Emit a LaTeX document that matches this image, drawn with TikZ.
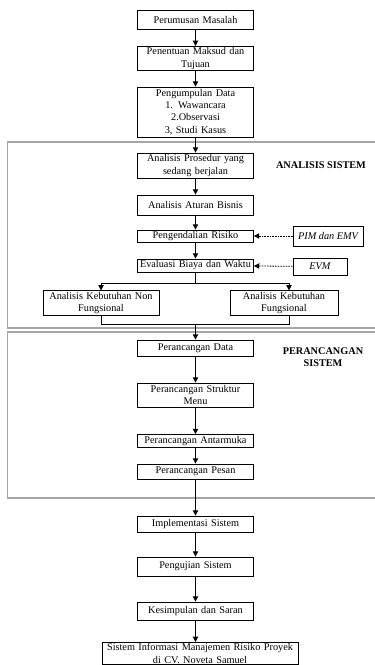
\documentclass[tikz,border=0pt]{standalone}
\usepackage{fontspec}
\setmainfont{Liberation Serif}
\usetikzlibrary{arrows.meta}

\tikzset{
  proses/.style={draw, line width=0.6pt, text width=85pt, align=center,
    inner xsep=1pt, inner ysep=1pt, font=\fontsize{7.7}{9.2}\selectfont},
  masukan/.style={draw, line width=0.6pt, align=center, inner sep=1pt,
    font=\fontsize{7.7}{9.2}\selectfont\itshape},
  panah/.style={line width=0.75pt, -{Triangle[length=4pt,width=4pt]}},
  garis/.style={line width=0.75pt},
  putus/.style={line width=0.6pt, dash pattern=on 1.2pt off 0.8pt,
    -{Triangle[length=4pt,width=4pt]}},
  tahap/.style={draw=gray!70, line width=1pt},
  judul/.style={font=\fontsize{7.7}{9.2}\selectfont\bfseries, align=center}
}

\begin{document}
\begin{tikzpicture}[x=0.75pt, y=-0.75pt]
  \useasboundingbox (0,0) rectangle (375,665);

  \draw[tahap] (7.5,142) rectangle (400,328);
  \draw[tahap] (7.5,332) rectangle (400,498);
  \node[judul] (jAnalisis) at (321,165) {ANALISIS SISTEM};
  \node[judul] (jPerancangan) at (323,357) {PERANCANGAN\\SISTEM};

  \node[proses, minimum height=14.25pt] (perumusan) at (195.5,19.5) {Perumusan Masalah};
  \node[proses, minimum height=18pt] (penentuan) at (195.5,58.5) {Penentuan Maksud dan\\Tujuan};
  \node[proses, minimum height=37.5pt] (pengumpulan) at (195.5,112) {Pengumpulan Data\\1. Wawancara\\2.Observasi\\3, Studi Kasus};
  \node[proses, minimum height=18.75pt] (prosedur) at (195.5,165.5) {Analisis Prosedur yang\\sedang berjalan};
  \node[proses, minimum height=15pt] (aturan) at (195.5,205) {Analisis Aturan Bisnis};
  \node[proses, minimum height=9pt] (risiko) at (195.5,236) {Pengendalian Risiko};
  \node[proses, minimum height=9.75pt] (evaluasi) at (195.5,265.5) {Evaluasi Biaya dan Waktu};
  \node[masukan, minimum width=52.5pt, minimum height=15pt] (pim) at (328,236) {PIM dan EMV};
  \node[masukan, minimum width=40.5pt, minimum height=12.75pt] (evm) at (320,266.5) {EVM};
  \node[proses, minimum height=18pt] (nonfung) at (101,303) {Analisis Kebutuhan Non\\Fungsional};
  \node[proses, text width=79pt, minimum height=18pt] (fung) at (284,303) {Analisis Kebutuhan\\Fungsional};
  \node[proses, minimum height=12pt] (data) at (195.5,348) {Perancangan Data};
  \node[proses, minimum height=18pt] (struktur) at (195.5,395) {Perancangan Struktur\\Menu};
  \node[proses, minimum height=9.75pt] (antarmuka) at (195.5,441) {Perancangan Antarmuka};
  \node[proses, minimum height=11.25pt] (pesan) at (195.5,471.5) {Perancangan Pesan};
  \node[proses, minimum height=12pt] (implementasi) at (195.5,524) {Implementasi Sistem};
  \node[proses, minimum height=14.25pt] (pengujian) at (195.5,566.5) {Pengujian Sistem};
  \node[proses, minimum height=13.5pt] (kesimpulan) at (195.5,611) {Kesimpulan dan Saran};
  \node[proses, text width=145pt, anchor=north] (hasil) at (200,642) {Sistem Informasi Manajemen Risiko Proyek\\di CV. Noveta Samuel};

  \draw[panah] (perumusan) -- (penentuan);
  \draw[panah] (penentuan) -- (pengumpulan);
  \draw[panah] (pengumpulan) -- (prosedur);
  \draw[panah] (prosedur) -- (aturan);
  \draw[panah] (aturan) -- (risiko);
  \draw[panah] (risiko) -- (evaluasi);
  \draw[putus] (pim) -- (risiko);
  \draw[putus] (evm) -- (evaluasi);

  \draw[garis] (evaluasi.south) -- ++(0,11) coordinate (cabang);
  \draw[panah] (cabang) -| (nonfung.north);
  \draw[panah] (cabang) -| ([xshift=3.75pt]fung.north);
  \coordinate (gabung) at (195.5,324);
  \draw[garis] (nonfung.south) |- (gabung);
  \draw[garis] ([xshift=3.75pt]fung.south) |- (gabung);
  \draw[panah] (gabung) -- (data);

  \draw[panah] (data) -- (struktur);
  \draw[panah] (struktur) -- (antarmuka);
  \draw[panah] (antarmuka) -- (pesan);
  \draw[panah] (pesan) -- (implementasi);
  \draw[panah] (implementasi) -- (pengujian);
  \draw[panah] (pengujian) -- (kesimpulan);
  \draw[panah] (kesimpulan.south) -- (kesimpulan.south |- hasil.north);
\end{tikzpicture}
\end{document}
